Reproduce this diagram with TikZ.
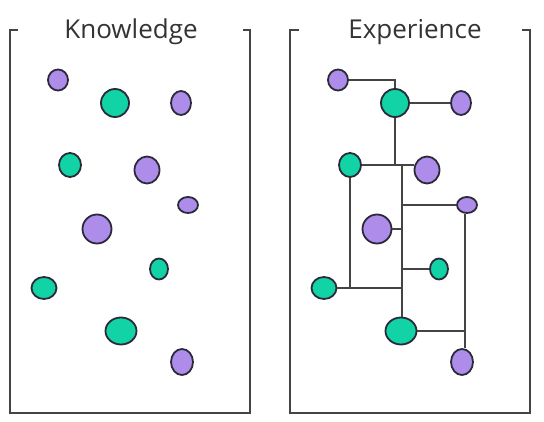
\documentclass[tikz,border=0pt]{standalone}
\usepackage{fontspec}
\setmainfont{Open Sans}
\usetikzlibrary{shapes.geometric}
\definecolor{gfill}{HTML}{12D3A6}
\definecolor{pfill}{HTML}{AE8CEA}
\definecolor{dotline}{HTML}{2A2A38}
\definecolor{boxline}{HTML}{444444}
\definecolor{txt}{HTML}{333333}
\tikzset{
  blob/.style={ellipse,draw=dotline,line width=1.8pt,inner sep=0pt},
  gb/.style={blob,fill=gfill},
  pb/.style={blob,fill=pfill},
  frame/.style={draw=boxline,line width=2pt},
  link/.style={draw=boxline,line width=2pt},
  title/.style={text=txt,font=\fontsize{26}{30}\selectfont,anchor=base}
}
\begin{document}
\begin{tikzpicture}[x=1pt,y=-1pt]
\useasboundingbox (0,0) rectangle (544,422);
% frames
\draw[frame] (18,30) -- (10,30) -- (10,413) -- (250,413) -- (250,30) -- (243,30);
\draw[frame] (299,30) -- (290,30) -- (290,413) -- (530,413) -- (530,30) -- (522,30);
\node[title] (tk) at (131,39) {Knowledge};
\node[title] (te) at (415,39) {Experience};
% knowledge dots
\node[pb,minimum width=20pt,minimum height=21pt] (k1) at (58,80) {};
\node[gb,minimum width=28pt,minimum height=28pt] (k2) at (115,103) {};
\node[pb,minimum width=20pt,minimum height=24pt] (k3) at (181,103) {};
\node[gb,minimum width=22pt,minimum height=24pt] (k4) at (70,165) {};
\node[pb,minimum width=25pt,minimum height=27pt] (k5) at (147,170) {};
\node[pb,minimum width=20pt,minimum height=16pt] (k6) at (188,205) {};
\node[pb,minimum width=29pt,minimum height=29pt] (k7) at (97,229) {};
\node[gb,minimum width=18pt,minimum height=21pt] (k8) at (159,269) {};
\node[gb,minimum width=25pt,minimum height=22pt] (k9) at (44,288) {};
\node[gb,minimum width=31pt,minimum height=27pt] (k10) at (121,331) {};
\node[pb,minimum width=22pt,minimum height=26pt] (k11) at (182,362) {};
% junction coordinates
\coordinate (s1) at (402,166);
\coordinate (s2) at (465,205);
% experience dots
\node[pb,minimum width=20pt,minimum height=21pt] (e1) at (338,80) {};
\node[gb,minimum width=28pt,minimum height=28pt] (e2) at (395,103) {};
\node[pb,minimum width=20pt,minimum height=24pt] (e3) at (461,103) {};
\node[gb,minimum width=22pt,minimum height=24pt] (e4) at (350,165) {};
\node[pb,minimum width=25pt,minimum height=27pt] (e5) at (427,170) {};
\node[pb,minimum width=20pt,minimum height=16pt] (e6) at (467,205) {};
\node[pb,minimum width=29pt,minimum height=29pt] (e7) at (377,229) {};
\node[gb,minimum width=18pt,minimum height=21pt] (e8) at (439,269) {};
\node[gb,minimum width=25pt,minimum height=22pt] (e9) at (324,288) {};
\node[gb,minimum width=31pt,minimum height=27pt] (e10) at (401,331) {};
\node[pb,minimum width=22pt,minimum height=26pt] (e11) at (462,362) {};
% links
\draw[link] (e1.east) -| (e2.north);
\draw[link] (e2.east) -- (e3.west);
\draw[link] (e2.south) -- (e2.south |- s1);
\draw[link] (e4.east) -- (e4.east -| e5.west);
\draw[link] (s1) -- (s1 |- e10.north);
\draw[link] (s1 |- e6.west) -- (e6.west);
\draw[link] (e7.east) -- (e7.east -| s1);
\draw[link] (s1 |- e8.west) -- (e8.west);
\draw[link] (e9.east) -- (e9.east -| s1);
\draw[link] (e4.south) -- (e4.south |- e9.east);
\draw[link] (s2 |- e6.south) -- (s2 |- e11.north);
\draw[link] (e10.east) -- (e10.east -| s2);
\end{tikzpicture}
\end{document}
